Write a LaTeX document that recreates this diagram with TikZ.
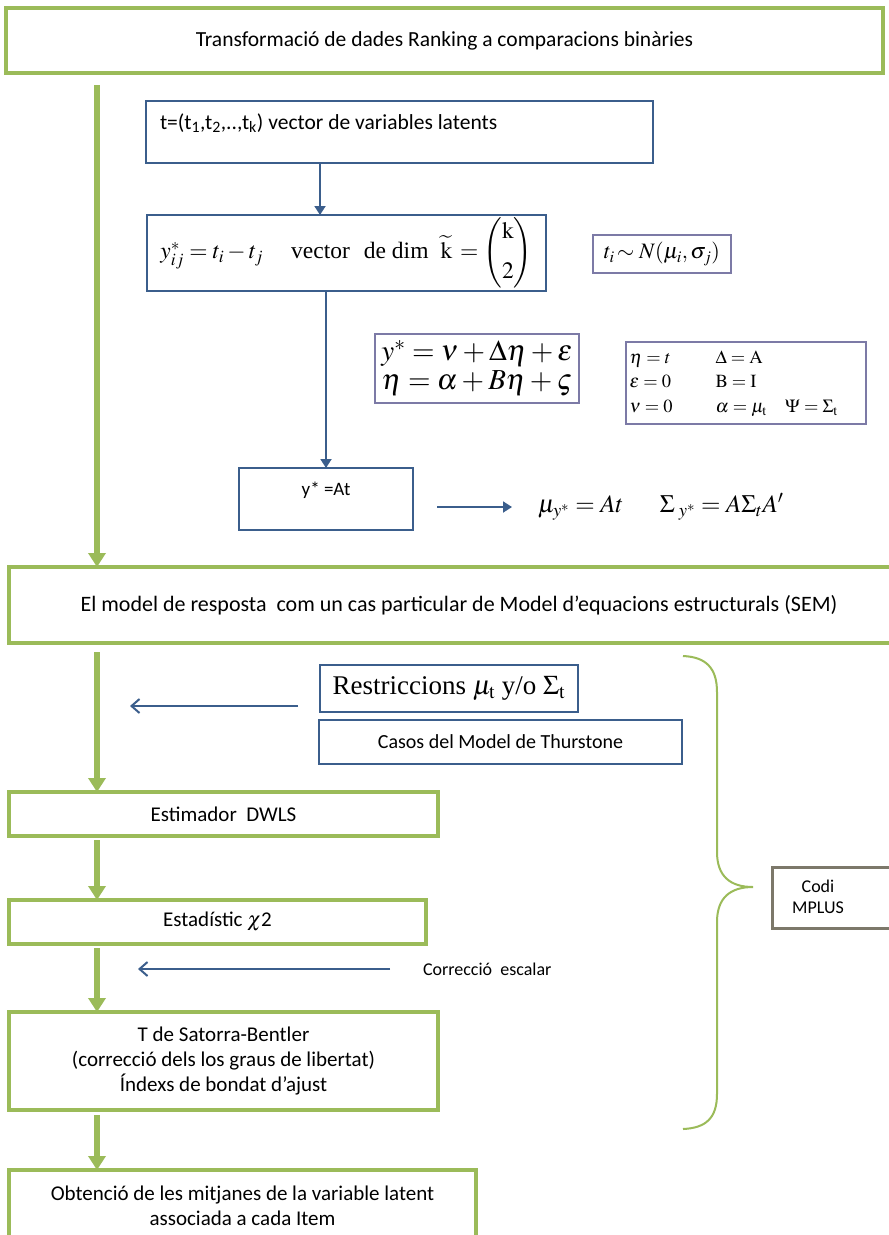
\documentclass[tikz,border=0pt]{standalone}
\usepackage{amsmath}
\usepackage{mathptmx}
\usepackage[no-math]{fontspec}
\setmainfont{Carlito}
\newfontfamily\serifface{Liberation Serif}
\usetikzlibrary{arrows.meta,calc}
\definecolor{leaf}{RGB}{155,187,89}
\definecolor{navy}{RGB}{59,94,140}
\definecolor{lilac}{RGB}{124,122,166}
\definecolor{stone}{RGB}{124,120,106}
\newcommand{\fs}[1]{\fontsize{#1}{1.2\dimexpr#1pt\relax}\selectfont}
\begin{document}
\begin{tikzpicture}[x=1pt,y=-1pt,
  box/.style={inner sep=0pt, outer sep=0pt, anchor=north west, fill=white, align=center},
  greenbox/.style={box, draw=leaf, line width=3.5pt},
  bluebox/.style={box, draw=navy, line width=2.5pt},
  thinblue/.style={box, draw=navy, line width=1.8pt},
  lilacbox/.style={box, draw=lilac, line width=2pt},
  greybox/.style={box, draw=stone, line width=3pt},
  flow/.style={draw=leaf, line width=6.5pt, -{Triangle[width=17pt,length=14pt]}},
  link/.style={draw=navy, line width=1.8pt, -{Triangle[width=11pt,length=9pt]}},
  back/.style={draw=navy, line width=2pt, -{Straight Barb[width=14pt,length=8pt]}},
  txt/.style={inner sep=0pt, outer sep=0pt}
]
\useasboundingbox (0,0) rectangle (889,1235);
\clip (0,0) rectangle (889,1235);
\fill[white] (0,0) rectangle (889,1235);

% main column of green stages
\node[greenbox, minimum width=877pt, minimum height=65pt, font=\fs{21.5}] (top) at (6,8)
  {Transformació de dades Ranking a comparacions binàries};
\node[greenbox, minimum width=900pt, minimum height=76pt, font=\fs{22}] (sem) at (9,567)
  {El model de resposta\ \ com un cas particular de Model d’equacions estructurals (SEM)};
\node[greenbox, minimum width=429pt, minimum height=44pt, font=\fs{21}] (dwls) at (9,792)
  {Estimador\ \ DWLS};
\node[greenbox, minimum width=417pt, minimum height=44pt, font=\fs{21}] (chi) at (9,900)
  {Estadístic $\chi$2};
\node[greenbox, minimum width=429pt, minimum height=98pt, font=\fs{21}] (sb) at (9,1012)
  {T de Satorra-Bentler\\(correcció dels los graus de libertat)\\Índexs de bondat d’ajust};
\node[greenbox, minimum width=467pt, minimum height=72pt, font=\fs{21}] (last) at (9,1170)
  {Obtenció de les mitjanes de la variable latent\\associada a cada Item};

% left spine of the flow
\coordinate (axis) at (97,0);
\draw[flow, shorten <=12pt] (top.south -| axis) -- (sem.north -| axis);
\draw[flow, shorten <=9pt] (sem.south -| axis) -- (dwls.north -| axis);
\draw[flow, shorten <=4pt] (dwls.south -| axis) -- (chi.north -| axis);
\draw[flow, shorten <=4pt] (chi.south -| axis) -- (sb.north -| axis);
\draw[flow, shorten <=5pt] (sb.south -| axis) -- (last.north -| axis);

% latent-variable derivation
\node[bluebox, minimum width=507pt, minimum height=62pt] (lat) at (146,101) {};
\node[txt, anchor=west, font=\fs{21.5}] (lattext) at (160,123)
  {t=(t\textsubscript{1},t\textsubscript{2},..,t\textsubscript{k}) vector de variables latents};
\node[bluebox, minimum width=399pt, minimum height=76pt, font=\fs{23.5}] (diff) at (147,215)
  {$y^{*}_{ij}=t_i-t_j$\hspace{28pt}{\serifface vector\hspace{14pt}de dim}\hspace{12pt}$\widetilde{\mathrm{k}}\,=\begin{pmatrix}\mathrm{k}\\[12pt]2\end{pmatrix}$};
\node[lilacbox, minimum width=138pt, minimum height=38pt, font=\fs{22}] (norm) at (593,235)
  {$t_i\!\sim N(\mu_i,\sigma_j)$};
\node[lilacbox, minimum width=204pt, minimum height=69pt, font=\fs{29}] (eqs) at (375,334)
  {$y^{*}=\nu+\Delta\eta+\varepsilon$\\[-6pt]$\eta=\alpha+B\eta+\varsigma$\hspace{14pt}};
\node[lilacbox, minimum width=240pt, minimum height=82pt, font=\fs{18.5}] (par) at (626,342)
  {\renewcommand{\arraystretch}{1.1}\begin{tabular}{@{\hspace{3pt}}p{86pt}@{}p{150pt}@{}}
   $\eta=t$ & $\Delta=\mathrm{A}$\\
   $\varepsilon=0$ & $\mathrm{B}=\mathrm{I}$\\
   $\nu=0$ & $\alpha=\mu_{\mathrm{t}}\quad\Psi=\Sigma_{\mathrm{t}}$
  \end{tabular}};
\node[bluebox, minimum width=174pt, minimum height=62pt] (yat) at (239,468) {};
\node[txt, font=\fs{19}] (yattext) at (326,490) {y* =At};
\node[txt, anchor=west, font=\fs{25}] (moments) at (538,507)
  {$\mu_{y^{*}}=At\quad\ \ \Sigma_{\;y^{*}}=A\Sigma_tA'$};

\draw[link] ($(lat.south west)+(174,0)$) -- ($(diff.north west)+(173,0)$);
\draw[link] ($(diff.south west)+(179,0)$) -- ($(yat.north west)+(87,0)$);
\draw[link, shorten <=24pt, shorten >=26pt] (yat.east |- moments) -- (moments.west);

% Thurstone restrictions
\node[thinblue, minimum width=258pt, minimum height=47pt, font=\fs{27}\serifface] (restr) at (320,665)
  {Restriccions $\mu_{\mathrm{t}}$ y/o $\Sigma_{\mathrm{t}}$};
\node[bluebox, minimum width=363pt, minimum height=44pt, font=\fs{20}] (thur) at (319,720)
  {Casos del Model de Thurstone};
\coordinate (restrin) at (130,706);
\draw[back] (298,706) coordinate (restrout) -- (restrin);

% scale correction
\node[txt, anchor=west, font=\fs{18}] (corr) at (423,969) {Correcció\ \ escalar};
\coordinate (corrin) at (138,969);
\draw[back, shorten <=33pt] (corr.west) -- (corrin);

% software brace
\node[greybox, minimum width=130pt, minimum height=61pt] (codi) at (772,867) {};
\node[txt, align=center, font=\fs{18}] (coditext) at (818,897) {Codi\\MPLUS};
\coordinate (bracetip) at (753,887);
\draw[leaf, line width=2pt] (683,656) .. controls (706,657) and (717,668) .. (717,692)
  -- (717,852) .. controls (717,876) and (730,887) .. (bracetip)
  .. controls (730,887) and (717,898) .. (717,922)
  -- (717,1094) .. controls (717,1118) and (706,1128) .. (683,1129);
\end{tikzpicture}
\end{document}
